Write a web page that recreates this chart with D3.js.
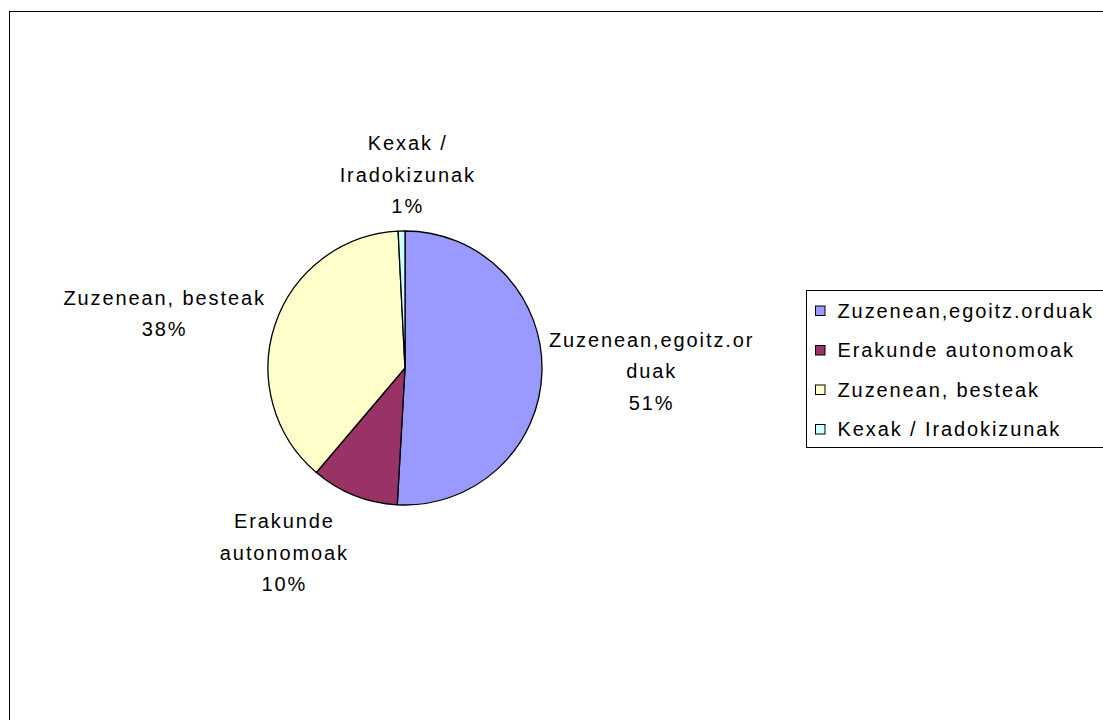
<!DOCTYPE html>
<html>
<head>
<meta charset="utf-8">
<script src="https://cdn.jsdelivr.net/npm/d3@7"></script>
<style>
  body { margin: 0; background: #fff; }
  svg text { font-family: "Liberation Sans", Arial, sans-serif; font-size: 20px; letter-spacing: 1.9px; fill: #000; }
</style>
</head>
<body>
<svg id="chart" width="1103" height="720"></svg>
<script>
"use strict";
const categories = ["Zuzenean,egoitz.orduak", "Erakunde autonomoak", "Zuzenean, besteak", "Kexak / Iradokizunak"];
const shares = [50.9, 10.3, 38.0, 0.8];
const colours = ["#9999FF", "#993366", "#FFFFCC", "#CCFFFF"];
// wrapped the way the data labels are wrapped in the picture
const labelLines = [["Zuzenean,egoitz.or", "duak"], ["Erakunde", "autonomoak"], ["Zuzenean, besteak"], ["Kexak /", "Iradokizunak"]];

const svg = d3.select("#chart");
const W = 1103, H = 720;
const cx = 405, cy = 368, r = 137;
const lineH = 31.5, gap = 5;
// small hand tweaks so the labels land where the spreadsheet put them
const labelNudge = [[2, -2], [-44, 9], [-10, 1], [8, -4]];

// outer chart frame (runs off the right and bottom of the picture)
svg.append("rect").attr("x", 9.5).attr("y", 11.5).attr("width", W + 20).attr("height", H + 20)
  .attr("fill", "none").attr("stroke", "#000").attr("stroke-width", 1);

const pie = d3.pie().sort(null).value(d => d);
const arcs = pie(shares);
const arc = d3.arc().innerRadius(0).outerRadius(r);
const pct = d3.format(".0%");
const total = d3.sum(shares);

const g = svg.append("g").attr("transform", `translate(${cx},${cy})`);
g.selectAll("path").data(arcs).enter().append("path")
  .attr("d", arc)
  .attr("fill", (d, i) => colours[i])
  .attr("stroke", "#000").attr("stroke-width", 1.3).attr("stroke-linejoin", "round");

// data labels, outside the pie
arcs.forEach((a, i) => {
  const lines = labelLines[i].concat([pct(a.data / total)]);
  const lab = g.append("text").attr("text-anchor", "middle");
  lines.forEach((t, k) => lab.append("tspan").attr("x", 0).attr("y", k * lineH).attr("dy", "0.35em").text(t));
  const halfW = d3.max(lab.selectAll("tspan").nodes(), n => n.getComputedTextLength()) / 2;
  const halfH = lines.length * lineH / 2;
  const mid = (a.startAngle + a.endAngle) / 2;
  const s = Math.sin(mid), c = Math.cos(mid);
  const x = (r + gap) * s + halfW * s + labelNudge[i][0];
  const y = -(r + gap) * c - halfH * c + labelNudge[i][1];
  lab.attr("transform", `translate(${x},${y - halfH + lineH / 2})`);
});

// legend
const lx = 806.5, ly = 290.5, rowH = 39.5;
svg.append("rect").attr("x", lx).attr("y", ly).attr("width", 320).attr("height", 157)
  .attr("fill", "#fff").attr("stroke", "#000").attr("stroke-width", 1);
const rows = svg.selectAll("g.leg").data(categories).enter().append("g").attr("class", "leg")
  .attr("transform", (d, i) => `translate(${lx + 9},${ly + 20 + i * rowH})`);
rows.append("rect").attr("x", 0).attr("y", -4.5).attr("width", 9.5).attr("height", 9.5)
  .attr("fill", (d, i) => colours[i]).attr("stroke", "#000").attr("stroke-width", 1);
rows.append("text").attr("x", 22).attr("dy", "0.35em").text(d => d);
</script>
</body>
</html>
